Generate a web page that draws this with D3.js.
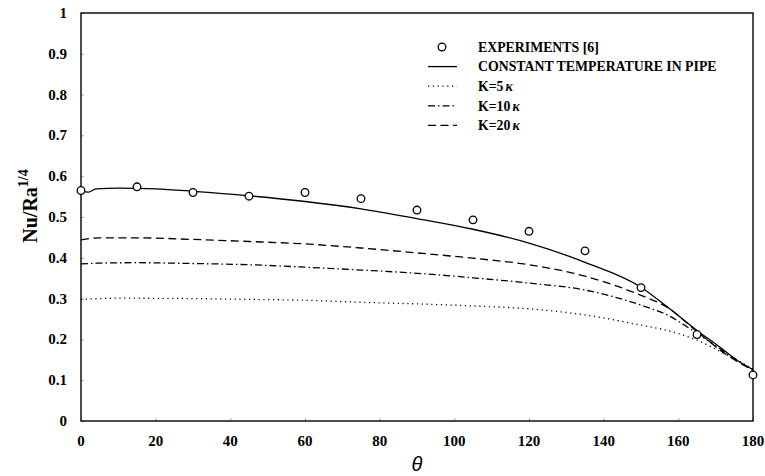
<!DOCTYPE html>
<html>
<head>
<meta charset="utf-8">
<script src="https://cdn.jsdelivr.net/npm/d3@7"></script>
<style>
    html, body { margin: 0; padding: 0; background: #fff; }
    svg { display: block; }
</style>
</head>
<body>
<div id="chart"></div>
<script>
(function() {
    'use strict';

    // measured points, theta in degrees
    var experiments = [
        [0, 0.565], [15, 0.574], [30, 0.560], [45, 0.551], [60, 0.560], [75, 0.545],
        [90, 0.517], [105, 0.493], [120, 0.465], [135, 0.417], [150, 0.327],
        [165, 0.212], [180, 0.113]
    ];
    var constantTemp = [
        [0, 0.564], [2, 0.561], [4, 0.569], [10, 0.571], [20, 0.569], [30, 0.563],
        [45, 0.552], [60, 0.538], [75, 0.520], [90, 0.496], [105, 0.470], [120, 0.436],
        [135, 0.389], [150, 0.328], [157, 0.280], [165, 0.222], [171, 0.182],
        [176, 0.147], [180, 0.126]
    ];
    var k5 = [
        [0, 0.298], [10, 0.301], [30, 0.300], [45, 0.298], [60, 0.296], [75, 0.291],
        [90, 0.287], [105, 0.282], [120, 0.275], [135, 0.260], [150, 0.235],
        [157, 0.222], [165, 0.198], [173, 0.162], [180, 0.128]
    ];
    var k10 = [
        [0, 0.385], [5, 0.387], [15, 0.388], [30, 0.386], [45, 0.383], [60, 0.377],
        [75, 0.370], [90, 0.362], [105, 0.351], [120, 0.338], [135, 0.321],
        [150, 0.284], [157, 0.260], [165, 0.215], [173, 0.166], [180, 0.124]
    ];
    var k20 = [
        [0, 0.444], [5, 0.449], [15, 0.449], [30, 0.445], [45, 0.440], [60, 0.434],
        [75, 0.424], [90, 0.412], [105, 0.399], [120, 0.383], [135, 0.355],
        [150, 0.308], [157, 0.279], [165, 0.219], [173, 0.162], [180, 0.124]
    ];
    var xTicks = [0, 20, 40, 60, 80, 100, 120, 140, 160, 180];
    var yTicks = [0, 0.1, 0.2, 0.3, 0.4, 0.5, 0.6, 0.7, 0.8, 0.9, 1];
    var legendLabels = ['EXPERIMENTS [6]', 'CONSTANT TEMPERATURE IN PIPE', 'K=5', 'K=10', 'K=20'];

    var width = 765, height = 476;
    var plot = { left: 81, right: 753, top: 13, bottom: 421 };
    var serif = '"Liberation Serif", "Times New Roman", serif';

    var svg = d3.select('#chart').append('svg')
        .attr('width', width)
        .attr('height', height)
        .attr('viewBox', '0 0 ' + width + ' ' + height);

    var x = d3.scaleLinear().domain([0, 180]).range([plot.left, plot.right]);
    var y = d3.scaleLinear().domain([0, 1]).range([plot.bottom, plot.top]);

    // axes: ticks point inward, labels drawn separately
    var xAxis = svg.append('g')
        .attr('transform', 'translate(0,' + plot.bottom + ')')
        .call(d3.axisBottom(x).tickValues(xTicks).tickSize(-3).tickFormat(''));
    var yAxis = svg.append('g')
        .attr('transform', 'translate(' + plot.left + ',0)')
        .call(d3.axisLeft(y).tickValues(yTicks).tickSize(-3).tickFormat(''));
    [xAxis, yAxis].forEach(function(ax) {
        ax.select('.domain').remove();
        ax.selectAll('.tick line').attr('stroke', '#aaa').attr('stroke-width', 1);
    });

    svg.append('rect')
        .attr('x', plot.left)
        .attr('y', plot.top)
        .attr('width', plot.right - plot.left)
        .attr('height', plot.bottom - plot.top)
        .attr('fill', 'none')
        .attr('stroke', '#000')
        .attr('stroke-width', 1.4);

    svg.append('g').selectAll('text')
        .data(xTicks)
        .join('text')
        .attr('x', function(d) { return x(d); })
        .attr('y', 446)
        .attr('text-anchor', 'middle')
        .attr('font-family', serif)
        .attr('font-weight', 'bold')
        .attr('font-size', 15)
        .text(function(d) { return d; });

    svg.append('g').selectAll('text')
        .data(yTicks)
        .join('text')
        .attr('x', 67)
        .attr('y', function(d) { return y(d) + 5; })
        .attr('text-anchor', 'end')
        .attr('font-family', serif)
        .attr('font-weight', 'bold')
        .attr('font-size', 15)
        .text(function(d) { return d; });

    var yLabel = svg.append('text')
        .attr('transform', 'translate(37,206) rotate(-90)')
        .attr('text-anchor', 'middle')
        .attr('font-family', serif)
        .attr('font-weight', 'bold')
        .attr('font-size', 20);
    yLabel.append('tspan').text('Nu/Ra');
    yLabel.append('tspan')
        .attr('dy', -9)
        .attr('font-size', 14)
        .text('1/4');

    svg.append('text')
        .attr('x', x(90))
        .attr('y', 471)
        .attr('text-anchor', 'middle')
        .attr('font-family', '"Liberation Sans", Arial, sans-serif')
        .attr('font-style', 'italic')
        .attr('font-size', 20)
        .text('\u03b8');

    var line = d3.line()
        .x(function(d) { return x(d[0]); })
        .y(function(d) { return y(d[1]); })
        .curve(d3.curveMonotoneX);

    var series = [
        { data: k5, dash: '1.2,3.6' },
        { data: k10, dash: '7,3,1.5,3' },
        { data: k20, dash: '8,4.5' },
        { data: constantTemp, dash: null }
    ];
    svg.append('g').selectAll('path')
        .data(series)
        .join('path')
        .attr('d', function(s) { return line(s.data); })
        .attr('fill', 'none')
        .attr('stroke', '#000')
        .attr('stroke-width', 1.3)
        .attr('stroke-dasharray', function(s) { return s.dash; });

    svg.append('g').selectAll('circle')
        .data(experiments)
        .join('circle')
        .attr('cx', function(d) { return x(d[0]); })
        .attr('cy', function(d) { return y(d[1]); })
        .attr('r', 3.8)
        .attr('fill', '#fff')
        .attr('stroke', '#000')
        .attr('stroke-width', 1.3);

    // legend
    var legendStyles = [
        { marker: true },
        { dash: null },
        { dash: '1.2,3.6' },
        { dash: '7,3,1.5,3' },
        { dash: '8,4.5' }
    ];
    var legend = svg.append('g').attr('transform', 'translate(428,47)');
    var rows = legend.selectAll('g')
        .data(legendLabels)
        .join('g')
        .attr('transform', function(d, i) { return 'translate(0,' + (i * 19.6) + ')'; });
    rows.each(function(d, i) {
        var row = d3.select(this);
        var st = legendStyles[i];
        if (st.marker) {
            row.append('circle')
                .attr('cx', 14)
                .attr('cy', 0)
                .attr('r', 3.8)
                .attr('fill', '#fff')
                .attr('stroke', '#000')
                .attr('stroke-width', 1.3);
        } else {
            row.append('line')
                .attr('x1', 0)
                .attr('x2', 29)
                .attr('stroke', '#000')
                .attr('stroke-width', 1.3)
                .attr('stroke-dasharray', st.dash);
        }
        var label = row.append('text')
            .attr('x', 50)
            .attr('y', 4.8)
            .attr('font-family', serif)
            .attr('font-weight', 'bold')
            .attr('font-size', 13.8)
            .text(d);
        if (i >= 2) {
            label.append('tspan')
                .attr('font-style', 'italic')
                .attr('dx', 2)
                .text('\u03ba');
        }
    });
})();
</script>
</body>
</html>
